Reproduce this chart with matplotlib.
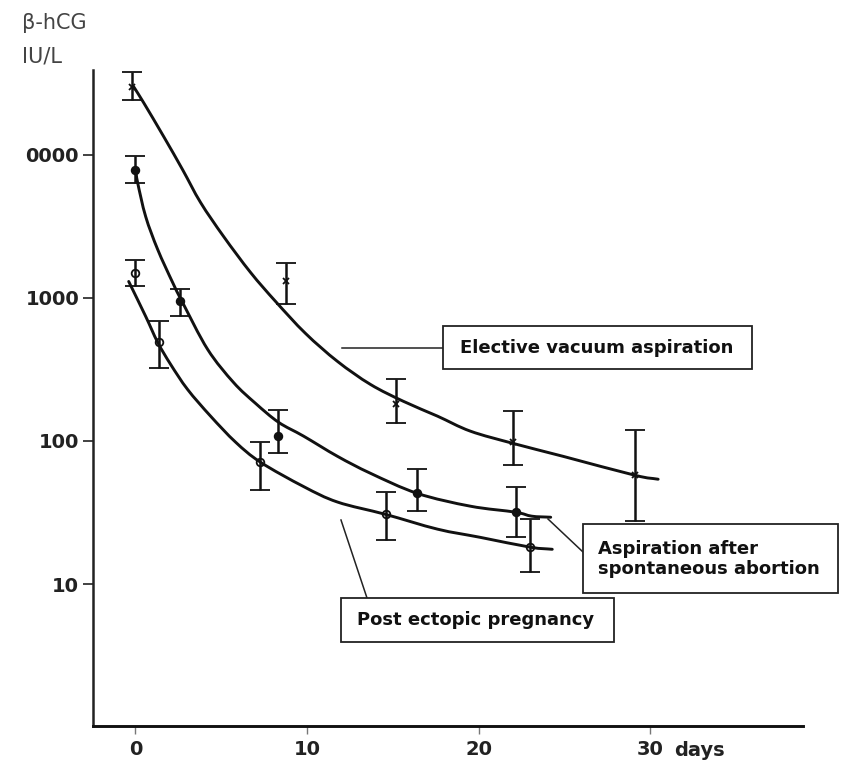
import matplotlib
matplotlib.use("Agg")
import numpy as np
import matplotlib.pyplot as plt
from matplotlib.patches import Rectangle, PathPatch
from matplotlib.path import Path
from matplotlib.lines import Line2D

# ---------------- data ----------------
x_ticks = [0, 10, 20, 30]
x_tick_labels = ["0", "10", "20", "30"]
y_ticks = [10, 100, 1000, 10000]
y_tick_labels = ["10", "100", "1000", "0000"]

# Elective vacuum aspiration (x markers)
elective_days = [-0.2, 8.75, 15.2, 22.0, 29.1]
elective_mean = [29800, 1300, 180, 98, 57.5]
elective_lo = [24200, 898, 133, 67.6, 27.5]
elective_hi = [37900, 1760, 269, 161, 120]
elective_curve_days = [-0.10, 0.48, 1.65, 2.75, 3.80, 5.14, 6.71, 8.17, 9.91,
                       11.78, 13.70, 15.62, 17.60, 19.52, 22.02, 24.93, 29.12, 30.46]
elective_curve_vals = [29800, 23070, 13360, 7850, 4625, 2680, 1503, 942, 564,
                       359, 248, 189, 149, 117, 96, 78, 57.5, 54]

# Aspiration after spontaneous abortion (filled dots)
spont_days = [0.0, 2.6, 8.3, 16.4, 22.2]
spont_mean = [7850, 942, 108, 43, 31.8]
spont_lo = [6380, 741, 82, 32.3, 21.2]
spont_hi = [9840, 1143, 164, 63.4, 47.4]
spont_curve_days = [0.02, 0.13, 0.60, 1.30, 2.17, 2.75, 4.21, 5.72, 7.00, 8.34,
                    9.80, 11.78, 13.70, 16.43, 19.52, 22.14, 23.10, 24.20]
spont_curve_vals = [7850, 6380, 3690, 2173, 1279, 927, 436, 256, 183, 135,
                    108, 78, 59.4, 43, 35, 31.8, 29.8, 29.3]

# Post ectopic pregnancy (open circles)
ectopic_days = [0.0, 1.4, 7.25, 14.6, 23.0]
ectopic_mean = [1500, 488, 71, 30.7, 18.1]
ectopic_lo = [1200, 321, 45.2, 20.2, 12.1]
ectopic_hi = [1850, 684, 97.7, 43.8, 28.4]
ectopic_curve_days = [-0.39, 0.60, 1.30, 2.05, 3.04, 4.38, 5.84, 7.29, 9.80,
                      11.78, 14.57, 17.60, 20.10, 23.01, 24.29]
ectopic_curve_vals = [1300, 741, 488, 343, 229, 149, 98, 71, 48,
                      37.4, 30.7, 24.2, 21.2, 18.1, 17.5]

label_elective = "Elective vacuum aspiration"
label_spont = "Aspiration after\nspontaneous abortion"
label_ectopic = "Post ectopic pregnancy"
y_title_1 = "β-hCG"
y_title_2 = "IU/L"
x_unit = "days"

# ---------------- figure ----------------
W, H = 842, 761
fig = plt.figure(figsize=(W / 100, H / 100), dpi=100)
fig.patch.set_facecolor("white")


def fx(px):
    return px / W


def fy(py):
    return 1 - py / H


ax = fig.add_axes([fx(93), fy(726), fx(803) - fx(93), fy(70) - fy(726)])
ax.set_yscale("log")
ax.set_xlim(-2.47, 38.9)
ax.set_ylim(1.02, 39000)

ink = "#111111"
for s in ("top", "right"):
    ax.spines[s].set_visible(False)
ax.spines["left"].set_linewidth(1.8)
ax.spines["bottom"].set_linewidth(2.1)
ax.spines["left"].set_color("#222222")
ax.spines["bottom"].set_color("#111111")

ax.set_xticks(x_ticks)
ax.set_xticklabels(x_tick_labels)
ax.set_yticks(y_ticks)
ax.set_yticklabels(y_tick_labels)
ax.minorticks_off()
ax.tick_params(axis="y", length=7, width=1.3, color="#333333", pad=3,
               labelsize=14, labelcolor="#222222")
ax.tick_params(axis="x", length=6, width=1.0, color="#777777", pad=4,
               labelsize=14, labelcolor="#222222")
for lab in ax.get_xticklabels() + ax.get_yticklabels():
    lab.set_fontweight("bold")
    lab.set_family("DejaVu Sans")

ax.annotate(x_unit, xy=(30, 0), xycoords=("data", "axes fraction"),
            xytext=(24, -15), textcoords="offset pixels", ha="left", va="top",
            fontsize=14, fontweight="bold", color="#222222", annotation_clip=False)


def smooth_curve(days, vals):
    """Draw a smooth line through the read points (Catmull-Rom as Bezier
    segments in log space; the axes transform maps the control points)."""
    x = np.asarray(days, float)
    y = np.log10(np.asarray(vals, float))
    px = np.concatenate([[2 * x[0] - x[1]], x, [2 * x[-1] - x[-2]]])
    py = np.concatenate([[2 * y[0] - y[1]], y, [2 * y[-1] - y[-2]]])
    verts = [(x[0], 10 ** y[0])]
    codes = [Path.MOVETO]
    for i in range(1, len(px) - 2):
        c1 = (px[i] + (px[i + 1] - px[i - 1]) / 6, py[i] + (py[i + 1] - py[i - 1]) / 6)
        c2 = (px[i + 1] - (px[i + 2] - px[i]) / 6, py[i + 1] - (py[i + 2] - py[i]) / 6)
        verts += [(c1[0], 10 ** c1[1]), (c2[0], 10 ** c2[1]), (px[i + 1], 10 ** py[i + 1])]
        codes += [Path.CURVE4] * 3
    ax.add_patch(PathPatch(Path(verts, codes), facecolor="none", edgecolor=ink,
                           lw=2.1, capstyle="round", joinstyle="round", zorder=3))


smooth_curve(elective_curve_days, elective_curve_vals)
smooth_curve(spont_curve_days, spont_curve_vals)
smooth_curve(ectopic_curve_days, ectopic_curve_vals)


def err(days, mean, lo, hi, marker, mfc, ms):
    yerr = [[m - l for m, l in zip(mean, lo)], [h - m for h, m in zip(hi, mean)]]
    ax.errorbar(days, mean, yerr=yerr, fmt=marker, color=ink, mfc=mfc, mec=ink,
                ms=ms, mew=1.3, elinewidth=1.8, capsize=7.5, capthick=1.8, zorder=4)


err(elective_days, elective_mean, elective_lo, elective_hi, "x", ink, 5)
err(spont_days, spont_mean, spont_lo, spont_hi, "o", ink, 5.5)
err(ectopic_days, ectopic_mean, ectopic_lo, ectopic_hi, "o", "none", 5.5)

# label boxes and leader lines (figure pixel layout)
box_kw = dict(transform=fig.transFigure, facecolor="white", edgecolor="#222222",
              lw=1.3, zorder=10)
txt_kw = dict(transform=fig.transFigure, fontsize=13, fontweight="bold",
              color="#111111", zorder=11, family="DejaVu Sans")
line_kw = dict(transform=fig.transFigure, color="#222222", lw=1.1, zorder=9)


def box(x0, y0, x1, y1):
    fig.add_artist(Rectangle((fx(x0), fy(y1)), fx(x1) - fx(x0), fy(y0) - fy(y1), **box_kw))


def leader(x0, y0, x1, y1):
    fig.add_artist(Line2D([fx(x0), fx(x1)], [fy(y0), fy(y1)], **line_kw))


box(443, 326, 752, 369)
leader(342, 348, 443, 348)
fig.text(fx(460), fy(348), label_elective, ha="left", va="center", **txt_kw)

box(583, 524, 838, 593)
leader(548, 519, 583, 552)
fig.text(fx(598), fy(559), label_spont, ha="left", va="center", linespacing=1.2, **txt_kw)

box(341, 598, 614, 642)
leader(341, 520, 367, 598)
fig.text(fx(357), fy(620), label_ectopic, ha="left", va="center", **txt_kw)

# y-axis title
fig.text(fx(22), fy(29), y_title_1, ha="left", va="baseline", fontsize=15,
         color="#444444", family=["DejaVu Sans"])
fig.text(fx(22), fy(63), y_title_2, ha="left", va="baseline", fontsize=15,
         color="#444444", family=["DejaVu Sans"])

fig.savefig("out.png", dpi=100, facecolor="white")
